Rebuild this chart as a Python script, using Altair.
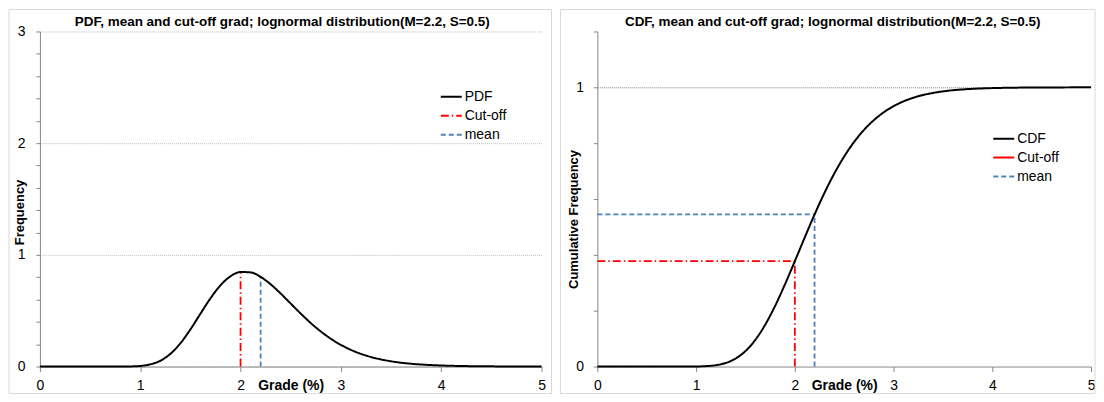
import altair as alt
import pandas as pd

# ---------------- data ----------------
grade = [0.0, 0.5, 0.8, 0.9, 1.0, 1.1, 1.2, 1.3, 1.4, 1.5, 1.6, 1.7, 1.8, 1.9, 2.0,
         2.1, 2.2, 2.3, 2.4, 2.5, 2.6, 2.7, 2.8, 2.9, 3.0, 3.1, 3.2, 3.3, 3.4, 3.5,
         3.6, 3.7, 3.8, 3.9, 4.0, 4.2, 4.4, 4.6, 4.8, 5.0]
pdf_values = [0.0, 0.0, 0.0001, 0.0011, 0.0055, 0.0192, 0.0519, 0.1133, 0.2080, 0.3325,
              0.4730, 0.6108, 0.7274, 0.8083, 0.8465, 0.8427, 0.8030, 0.7366, 0.6538, 0.5636,
              0.4739, 0.3894, 0.3140, 0.2488, 0.1941, 0.1494, 0.1136, 0.0855, 0.0637, 0.0471,
              0.0345, 0.0252, 0.0182, 0.0131, 0.0094, 0.0048, 0.0024, 0.0012, 0.0006, 0.0003]
cdf_values = [0.0, 0.0, 0.0, 0.0001, 0.0003, 0.0015, 0.0048, 0.0128, 0.0286, 0.0554,
              0.0956, 0.1499, 0.2171, 0.2943, 0.3772, 0.4620, 0.5447, 0.6218, 0.6915, 0.7523,
              0.8041, 0.8473, 0.8823, 0.9104, 0.9324, 0.9495, 0.9626, 0.9725, 0.9799, 0.9854,
              0.9895, 0.9924, 0.9946, 0.9961, 0.9972, 0.9986, 0.9993, 0.9997, 0.9998, 0.9999]

cutoff_grade = 2.0
mean_grade = 2.2
pdf_at_cutoff = 0.8465
pdf_at_mean = 0.8030
cdf_at_cutoff = 0.3772
cdf_at_mean = 0.5447

left_series = ["PDF", "Cut-off", "mean"]
right_series = ["CDF", "Cut-off", "mean"]
series_colors = ["#000000", "#FF0000", "#4F81BD"]

left_title = "PDF, mean and cut-off grad; lognormal distribution(M=2.2, S=0.5)"
right_title = "CDF, mean and cut-off grad; lognormal distribution(M=2.2, S=0.5)"

x_ticks = [0, 1, 2, 3, 4, 5]
left_y_ticks = [round(i * 0.2, 1) for i in range(16)]
right_y_ticks = [round(i * 0.2, 1) for i in range(7)]

# ---------------- style ----------------
FONT = "Liberation Sans"
AXIS_GREY = "#868686"
FRAME_GREY = "#D9D9D9"
W1, W2, H = 503, 495, 336
DASH_DOT = [8, 3, 1.5, 3]
DASHED = [5, 3]
SOLID = [1, 0]

pdf_df = pd.DataFrame({"grade": grade, "value": pdf_values, "series": "PDF"})
cdf_df = pd.DataFrame({"grade": grade, "value": cdf_values, "series": "CDF"})

left_rules = pd.DataFrame({
    "series": ["Cut-off", "mean"],
    "grade": [cutoff_grade, mean_grade],
    "grade2": [cutoff_grade, mean_grade],
    "value": [0.0, 0.0],
    "value2": [pdf_at_cutoff, pdf_at_mean],
})
right_cut = pd.DataFrame({
    "series": ["Cut-off", "Cut-off"],
    "grade": [cutoff_grade, 0.0],
    "grade2": [cutoff_grade, cutoff_grade],
    "value": [0.0, cdf_at_cutoff],
    "value2": [cdf_at_cutoff, cdf_at_cutoff],
})
right_mean = pd.DataFrame({
    "series": ["mean", "mean"],
    "grade": [mean_grade, 0.0],
    "grade2": [mean_grade, mean_grade],
    "value": [0.0, cdf_at_mean],
    "value2": [cdf_at_mean, cdf_at_mean],
})


def x_axis(width):
    return alt.Axis(values=x_ticks, format="d", title="Grade (%)", titleFontSize=14,
                    titleFontWeight="bold", titleFont=FONT, titleColor="#000",
                    titleX=width / 2, titleY=12, titleBaseline="top", titleAlign="center",
                    labelFontSize=14, labelFont=FONT, labelColor="#000", labelPadding=7,
                    labelFlush=False, tickSize=5, tickColor=AXIS_GREY, domainColor=AXIS_GREY,
                    grid=False)


def y_axis(ticks, title, title_x, title_y, label_pad, grid_test, grid_color):
    return alt.Axis(values=ticks, title=title,
                    labelExpr="datum.value % 1 === 0 ? format(datum.value, 'd') : ''",
                    labelFontSize=14, labelFont=FONT, labelColor="#000", labelPadding=label_pad,
                    tickSize=4, tickColor=AXIS_GREY, domainColor=AXIS_GREY,
                    titleFontSize=13, titleFontWeight="bold", titleFont=FONT, titleColor="#000",
                    titleAngle=270, titleX=title_x, titleY=title_y, titleBaseline="middle",
                    titleAlign="center",
                    grid=True, gridColor=grid_color, gridDash=[1, 1], gridWidth=1,
                    gridOpacity={"condition": {"test": grid_test, "value": 1}, "value": 0})


def legend(lx, ly, row_pad):
    return alt.Legend(orient="none", legendX=lx, legendY=ly, title=None, symbolType="stroke",
                      symbolSize=441, symbolStrokeWidth=2, labelFontSize=14, labelFont=FONT,
                      labelColor="#000", rowPadding=row_pad, labelOffset=2, padding=0)


def frame(width, left_off, right_off):
    return alt.Chart(alt.Data(values=[{}])).mark_rect(
        fillOpacity=0, stroke=FRAME_GREY, strokeWidth=1
    ).encode(x=alt.value(left_off), x2=alt.value(width + right_off),
             y=alt.value(-22), y2=alt.value(H + 27))


def title_text(text, cx):
    return alt.Chart(alt.Data(values=[{}])).mark_text(
        text=text, font=FONT, fontSize=13.5, fontWeight="bold", color="#000",
        align="center", baseline="middle"
    ).encode(x=alt.value(cx), y=alt.value(-9))


# ---------------- left panel ----------------
lx_axis = x_axis(W1)
ly_axis = y_axis(left_y_ticks, "Frequency", -20, 181, 11, "datum.value % 1 === 0", "#BFBFBF")
lx = alt.Scale(domain=[0, 5], nice=False)
ly = alt.Scale(domain=[0, 3], nice=False)
lcolor = alt.Color("series:N", scale=alt.Scale(domain=left_series, range=series_colors),
                   legend=legend(401, 54, 0))
ldash = alt.StrokeDash("series:N", scale=alt.Scale(domain=left_series, range=[SOLID, DASH_DOT, DASHED]),
                       legend=legend(401, 54, 0))

left_curve = alt.Chart(pdf_df).mark_line(strokeWidth=2, interpolate="monotone").encode(
    x=alt.X("grade:Q", scale=lx, axis=lx_axis),
    y=alt.Y("value:Q", scale=ly, axis=ly_axis),
    color=lcolor, strokeDash=ldash,
)
left_rule = alt.Chart(left_rules).mark_rule(strokeWidth=1.8).encode(
    x=alt.X("grade:Q", scale=lx, axis=lx_axis), x2="grade2:Q",
    y=alt.Y("value:Q", scale=ly, axis=ly_axis), y2="value2:Q",
    color=lcolor, strokeDash=ldash,
)
left = alt.layer(frame(W1, -31, 10), left_rule, left_curve, title_text(left_title, 243)).properties(
    width=W1, height=H)

# ---------------- right panel ----------------
rx_axis = x_axis(W2)
ry_axis = y_axis(right_y_ticks, "Cumulative Frequency", -24, 188, 10, "datum.value === 1", "#808080")
rx = alt.Scale(domain=[0, 5], nice=False)
ry = alt.Scale(domain=[0, 1.2], nice=False)
rcolor = alt.Color("series:N", scale=alt.Scale(domain=right_series, range=series_colors),
                   legend=legend(396, 96, -3.5))
rdash = alt.StrokeDash("series:N", scale=alt.Scale(domain=right_series, range=[SOLID, SOLID, DASHED]),
                       legend=legend(396, 96, -3.5))

right_curve = alt.Chart(cdf_df).mark_line(strokeWidth=2, interpolate="monotone").encode(
    x=alt.X("grade:Q", scale=rx, axis=rx_axis),
    y=alt.Y("value:Q", scale=ry, axis=ry_axis),
    color=rcolor, strokeDash=rdash,
)
right_cut_rule = alt.Chart(right_cut).mark_rule(strokeWidth=1.8, strokeDash=DASH_DOT).encode(
    x=alt.X("grade:Q", scale=rx, axis=rx_axis), x2="grade2:Q",
    y=alt.Y("value:Q", scale=ry, axis=ry_axis), y2="value2:Q",
    color=rcolor,
)
right_mean_rule = alt.Chart(right_mean).mark_rule(strokeWidth=1.8).encode(
    x=alt.X("grade:Q", scale=rx, axis=rx_axis), x2="grade2:Q",
    y=alt.Y("value:Q", scale=ry, axis=ry_axis), y2="value2:Q",
    color=rcolor, strokeDash=rdash,
)
right = alt.layer(frame(W2, -37, 4), right_cut_rule, right_mean_rule, right_curve,
                  title_text(right_title, 236)).properties(width=W2, height=H)

chart = alt.hconcat(left, right, spacing=7).resolve_scale(
    color="independent", strokeDash="independent"
).resolve_legend(color="independent", strokeDash="independent").properties(
    padding=0
).configure(font=FONT).configure_view(stroke=None)

chart.save("out.html", embed_options={"renderer": "svg", "actions": False})
